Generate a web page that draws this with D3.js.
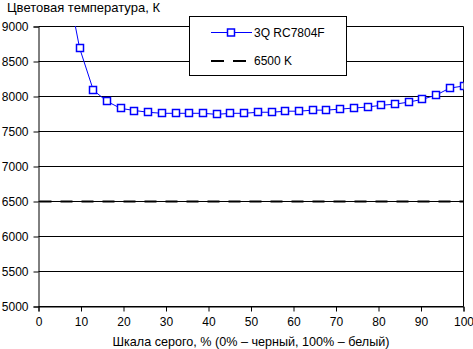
<!DOCTYPE html>
<html>
<head>
<meta charset="utf-8">
<script src="https://cdn.jsdelivr.net/npm/d3@7"></script>
<style>
  html, body { margin: 0; padding: 0; background: #fff; }
  svg { display: block; font-family: "Liberation Sans", Arial, sans-serif; }
</style>
</head>
<body>
<svg id="chart" width="473" height="349"></svg>
<script>
// Gray level (%) of each measured step, 32-step scale
const grayLevels = [6.45, 9.68, 12.90, 16.13, 19.35, 22.58, 25.81, 29.03, 32.26, 35.48,
  38.71, 41.94, 45.16, 48.39, 51.61, 54.84, 58.06, 61.29, 64.52, 67.74,
  70.97, 74.19, 77.42, 80.65, 83.87, 87.10, 90.32, 93.55, 96.77, 100];
// Colour temperature, K
const colorTemp = [9700, 8690, 8090, 7930, 7830, 7800, 7775, 7760, 7760, 7760,
  7760, 7745, 7760, 7760, 7775, 7775, 7790, 7790, 7805, 7805,
  7820, 7835, 7850, 7875, 7890, 7920, 7960, 8020, 8120, 8150];
const referenceTemp = 6500;
const seriesName = "3Q RC7804F";
const referenceName = "6500 K";
const xTicks = [0, 10, 20, 30, 40, 50, 60, 70, 80, 90, 100];
const yTicks = [5000, 5500, 6000, 6500, 7000, 7500, 8000, 8500, 9000];
const yTitle = "Цветовая температура, К";
const xTitle = "Шкала серого, % (0% – черный, 100% – белый)";

const svg = d3.select("#chart");
const plotL = 38.5, plotR = 463.5, plotT = 26.5, plotB = 306.5;

const x = d3.scaleLinear().domain([0, 100]).range([plotL, plotR]);
const y = d3.scaleLinear().domain([5000, 9000]).range([plotB, plotT]);

const fontSize = 12;

// horizontal grid
svg.append("g").selectAll("line").data(yTicks).join("line")
  .attr("x1", plotL).attr("x2", plotR)
  .attr("y1", d => y(d)).attr("y2", d => y(d))
  .attr("stroke", "#000").attr("stroke-width", 1);

// right border
svg.append("line").attr("x1", plotR).attr("x2", plotR)
  .attr("y1", plotT).attr("y2", plotB).attr("stroke", "#000");

// y axis
const yAxis = svg.append("g").attr("transform", `translate(${plotL},0)`)
  .call(d3.axisLeft(y).tickValues(yTicks).tickSize(5).tickPadding(5).tickFormat(d3.format("d")));
yAxis.select(".domain").attr("stroke", "#000");
yAxis.selectAll("line").attr("stroke", "#000");
yAxis.selectAll("text").attr("font-size", fontSize).attr("font-family", "Liberation Sans, Arial").attr("fill", "#000");

// x axis
const xAxis = svg.append("g").attr("transform", `translate(0,${plotB})`)
  .call(d3.axisBottom(x).tickValues(xTicks).tickSize(5).tickPadding(6).tickFormat(d3.format("d")));
xAxis.select(".domain").attr("stroke", "#000");
xAxis.selectAll("line").attr("stroke", "#000");
xAxis.selectAll("text").attr("font-size", fontSize).attr("font-family", "Liberation Sans, Arial").attr("fill", "#000");

// clip for plotted data
svg.append("defs").append("clipPath").attr("id", "plot")
  .append("rect").attr("x", plotL).attr("y", plotT - 0.5).attr("width", plotR - plotL).attr("height", plotB - plotT + 0.5);

// reference 6500 K dashed line
svg.append("line")
  .attr("x1", plotL + 1).attr("x2", plotR)
  .attr("y1", y(referenceTemp)).attr("y2", y(referenceTemp))
  .attr("stroke", "#000").attr("stroke-width", 2).attr("stroke-dasharray", "12,9");

// measured series
const pts = grayLevels.map((g, i) => [g, colorTemp[i]]);
const line = d3.line().x(d => x(d[0])).y(d => y(d[1]));
const series = svg.append("g").attr("clip-path", "url(#plot)");
series.append("path").datum(pts).attr("d", line)
  .attr("fill", "none").attr("stroke", "#0000ff").attr("stroke-width", 1);
series.selectAll("rect").data(pts.filter(d => d[1] <= 9000)).join("rect")
  .attr("x", d => Math.round(x(d[0])) - 3.5).attr("y", d => Math.round(y(d[1])) - 3.5)
  .attr("width", 7).attr("height", 7)
  .attr("fill", "#fff").attr("stroke", "#0000ff").attr("stroke-width", 1.5);

// legend
const lg = svg.append("g");
lg.append("rect").attr("x", 189.5).attr("y", 16.5).attr("width", 157).attr("height", 59)
  .attr("fill", "#fff").attr("stroke", "#000").attr("stroke-width", 1);
lg.append("line").attr("x1", 211).attr("x2", 252).attr("y1", 32.5).attr("y2", 32.5)
  .attr("stroke", "#0000ff").attr("stroke-width", 1);
lg.append("rect").attr("x", 227.5).attr("y", 29).attr("width", 7).attr("height", 7)
  .attr("fill", "#fff").attr("stroke", "#0000ff").attr("stroke-width", 1.5);
lg.append("text").attr("x", 254).attr("y", 32.5).attr("dy", "0.35em")
  .attr("font-size", fontSize).text(seriesName);
lg.append("line").attr("x1", 211).attr("x2", 246).attr("y1", 61).attr("y2", 61)
  .attr("stroke", "#000").attr("stroke-width", 2).attr("stroke-dasharray", "13,9");
lg.append("text").attr("x", 254).attr("y", 61).attr("dy", "0.35em")
  .attr("font-size", fontSize).text(referenceName);

// titles
svg.append("text").attr("x", 7).attr("y", 12).attr("font-size", 13).text(yTitle);
svg.append("text").attr("x", 251).attr("y", 346).attr("text-anchor", "middle")
  .attr("font-size", 12.6).text(xTitle);
</script>
</body>
</html>
